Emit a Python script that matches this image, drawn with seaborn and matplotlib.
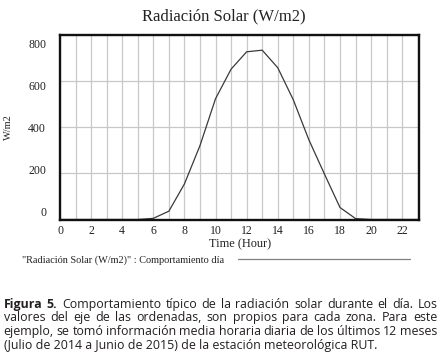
import matplotlib
matplotlib.use("Agg")
import matplotlib.pyplot as plt
import matplotlib.transforms as mtransforms
import seaborn as sns
import pandas as pd
from matplotlib.lines import Line2D

# hourly mean solar radiation (W/m2)
hours = list(range(0, 24))
radiation = [0, 0, 0, 0, 0, 0, 5, 36, 154, 320, 523, 651,
             726, 733, 657, 518, 345, 197, 52, 4, 0, 0, 0, 0]
x_ticks = list(range(0, 23, 2))
y_ticks = [0, 200, 400, 600, 800]

title = "Radiación Solar (W/m2)"
legend_text = '"Radiación Solar (W/m2)" : Comportamiento día'
caption = [
    "Figura 5. Comportamiento típico de la radiación solar durante el día. Los",
    "valores del eje de las ordenadas, son propios para cada zona. Para este",
    "ejemplo, se tomó información media horaria diaria de los últimos 12 meses",
    "(Julio de 2014 a Junio de 2015) de la estación meteorológica RUT.",
]

sns.set_style("white")
plt.rcParams['font.family'] = ['Liberation Serif', 'DejaVu Serif']

W, H = 448, 361
ax_top, ax_bot = 34.7, 219.5
fig = plt.figure(figsize=(W / 100, H / 100), dpi=100)
ax = fig.add_axes([60 / W, 1 - ax_bot / H, (419.3 - 60) / W, (ax_bot - ax_top) / H])

df = pd.DataFrame({"hour": hours, "rad": radiation})
sns.lineplot(data=df, x="hour", y="rad", ax=ax, color="#3a3a3a", lw=0.9)

ax.set_xlim(0, 23.1)
ax.set_ylim(0, 800)
ax.set_xticks(x_ticks)
ax.set_xticks(hours, minor=True)
ax.set_yticks(y_ticks)
ax.set_axisbelow(True)
ax.grid(which="both", axis="x", color="#c8c8c8", lw=0.9)
ax.grid(which="major", axis="y", color="#c8c8c8", lw=0.9)
ax.tick_params(which="both", length=0)
ax.tick_params(axis="x", pad=4, labelsize=8.5, labelcolor="#222222")
ax.tick_params(axis="y", pad=10, labelsize=8.5, labelcolor="#222222")
ax.set_xlabel("")
ax.set_ylabel("")
for s in ax.spines.values():
    s.set_visible(True)
    s.set_color("#111111")
    s.set_linewidth(1.7)

# the y labels in the original sit a bit inside the gridlines (43px .. 212px)
for tick, v in zip(ax.yaxis.get_major_ticks(), y_ticks):
    frac = (800 - v) / 800
    want = 43.3 + frac * (212 - 43.3)
    grid = ax_top + frac * (ax_bot - ax_top)
    off = mtransforms.ScaledTranslation(0, -(want - grid) / 100, fig.dpi_scale_trans)
    tick.label1.set_transform(tick.label1.get_transform() + off)

fig.text(0.5, 1 - 16 / H, title, ha="center", va="center", fontsize=12, color="#222222")
fig.text(239.6 / W, 1 - 244 / H, "Time (Hour)", ha="center", va="center", fontsize=8.8, color="#222222")
fig.text(8 / W, 1 - 127 / H, "W/m2", ha="center", va="center", rotation=90, fontsize=7.5, color="#222222")

# legend row
fig.text(22 / W, 1 - 260 / H, legend_text, ha="left", va="center", fontsize=7.4, color="#222222")
fig.add_artist(Line2D([238 / W, 410 / W], [1 - 259 / H, 1 - 259 / H],
                      transform=fig.transFigure, color="#808080", lw=0.9))

# justified caption (last line left aligned)
renderer = fig.canvas.get_renderer()
x0, x1 = 3.5, 437.5
baselines = [307.8, 321.4, 335.0, 348.6]
cap_font = ['Open Sans', 'DejaVu Sans']
cap_size = 8.9
for i, line in enumerate(caption):
    y = 1 - baselines[i] / H
    if i == len(caption) - 1:
        fig.text(x0 / W, y, line, ha="left", va="baseline", fontsize=cap_size,
                 family=cap_font, color="#231f20")
        continue
    words = line.split()
    texts = []
    for j, w in enumerate(words):
        bold = (i == 0 and j < 2)
        t = fig.text(0, y, w, ha="left", va="baseline",
                     fontsize=cap_size, family=cap_font, color="#231f20",
                     fontweight="bold" if bold else "normal")
        texts.append(t)
    widths = [t.get_window_extent(renderer).width for t in texts]
    space = (x1 - x0 - sum(widths)) / (len(words) - 1)
    x = x0
    for t, w in zip(texts, widths):
        t.set_x(x / W)
        x += w + space

fig.savefig("out.png", dpi=100, facecolor="white")
